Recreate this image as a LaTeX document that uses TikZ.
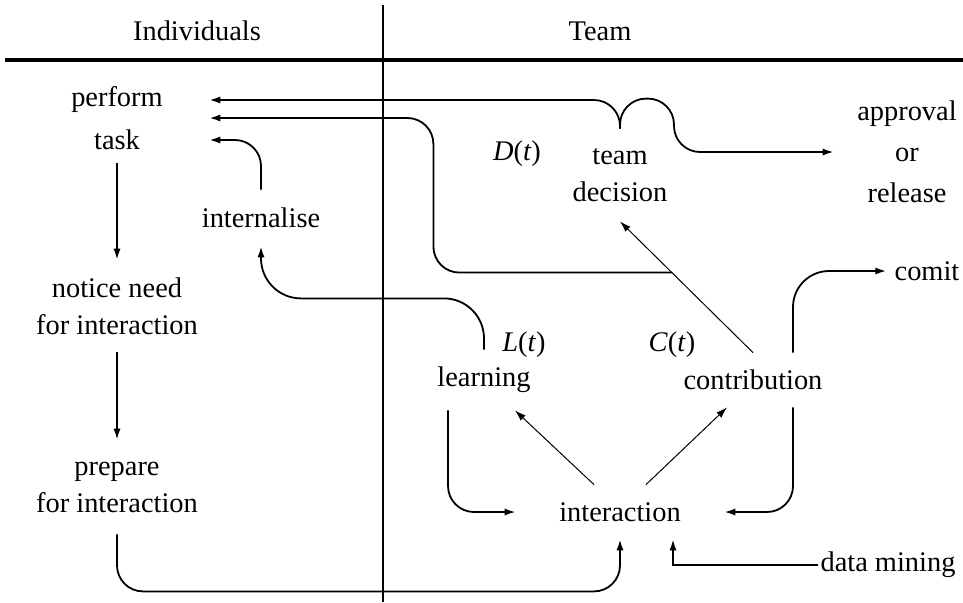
\documentclass[tikz,border=0pt]{standalone}
\usepackage{fontspec}
\setmainfont{Liberation Serif}
\usetikzlibrary{arrows.meta}

\tikzset{
  lbl/.style={inner sep=0pt, align=center, font=\fontsize{14.2}{18.5}\selectfont},
  route/.style={line width=0.9pt, rounded corners=13pt, -{Latex[length=5.5pt,width=3.6pt]}},
  link/.style={line width=0.5pt, -{Latex[length=5.5pt,width=3.6pt]}},
}

\begin{document}
\begin{tikzpicture}[x=0.5pt,y=-0.5pt]
\useasboundingbox (0,0) rectangle (963,602);
% header
\node[lbl] (indiv) at (197,31) {Individuals};
\node[lbl] (teamhd) at (600,31) {Team};
\draw[line width=1.6pt] (5,60) -- (963,60);
\draw[line width=0.8pt] (383,5) -- (383,602);

% individuals
\node[lbl, minimum width=92pt] (perform) at (117,100) {perform};
\node[lbl, minimum width=92pt, minimum height=23pt] (task) at (117,140) {task};
\node[lbl, minimum height=46pt] (notice) at (117,306) {notice need\\for interaction};
\node[lbl, minimum height=47pt] (prepare) at (117,487) {prepare\\for interaction};
\node[lbl, minimum height=28pt] (internalise) at (261,218) {internalise};

% team
\node[lbl, minimum height=46pt] (dec) at (620,175) {team\\decision};
\node[lbl] (Dt) at (517,154) {\textit{D}(\textit{t})};
\node[lbl, minimum width=73pt, font=\fontsize{14.2}{20.5}\selectfont] (approval) at (907,152) {approval\\or\\release};
\node[lbl, inner xsep=4pt] (comit) at (927,271) {comit};
\node[lbl, minimum height=30pt] (learning) at (484,380) {learning};
\node[lbl] (Lt) at (524,345) {\textit{L}(\textit{t})};
\node[lbl, minimum height=27pt] (contribution) at (753,380) {contribution};
\node[lbl] (Ct) at (672,345) {\textit{C}(\textit{t})};
\node[lbl, minimum width=104pt, minimum height=27pt] (interaction) at (620,512) {interaction};
\node[lbl, inner xsep=1pt] (mining) at (888,565) {data mining};

% connectors
\draw[route] (dec.north) |- (perform.east);
\draw[route] (dec.north) -- ++(0,-30) -- ++(54,0) |- (approval.west);
\draw[route] (internalise.north) |- (task.east);
\draw[route] (task.south) -- (notice.north);
\draw[route] (notice.south) -- (prepare.north);
\draw[link] (contribution.north) -- coordinate[pos=0.61] (split) (dec.south);
\draw[route] (split) -| ([xshift=112pt,yshift=11pt]task.east) -- ([yshift=11pt]task.east);
\draw[route, rounded corners=20pt] (learning.north) |- ([yshift=-26pt]internalise.south) -- (internalise.south);
\draw[route] ([xshift=-18pt]learning.south) |- (interaction.west);
\draw[link] ([xshift=-13pt]interaction.north) -- ([xshift=15.5pt]learning.south);
\draw[link] ([xshift=13pt]interaction.north) -- ([xshift=-13pt]contribution.south);
\draw[route, rounded corners=18pt] ([xshift=20pt]contribution.north) |- (comit.west);
\draw[route] ([xshift=20pt]contribution.south) |- (interaction.east);
\draw[route] (prepare.south) |- ([yshift=-26pt]interaction.south) -- (interaction.south);
\draw[route, sharp corners] (mining.west) -| ([xshift=26.5pt]interaction.south);
\end{tikzpicture}
\end{document}
